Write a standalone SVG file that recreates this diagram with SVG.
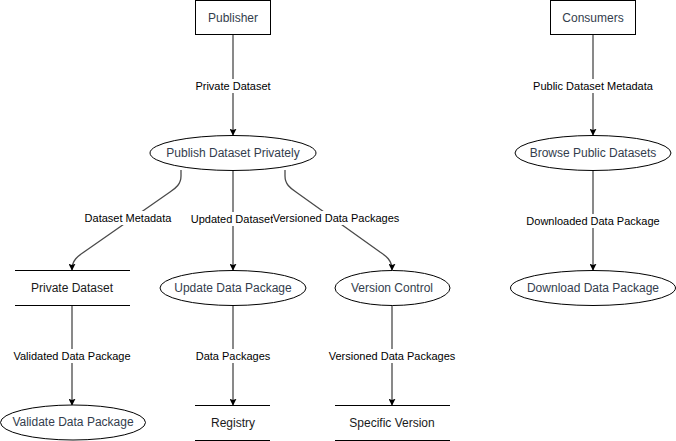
<svg xmlns="http://www.w3.org/2000/svg" width="676" height="441" viewBox="0 0 676 441">
<defs>
<marker id="arr" viewBox="0 0 10 10" refX="9" refY="5" markerWidth="7" markerHeight="7" markerUnits="userSpaceOnUse" orient="auto">
<path d="M0,0 L10,5 L0,10 L2,5 Z" fill="#000"/>
</marker>
<style>
.node{fill:#fff;stroke:#000;stroke-width:1}
.store{stroke:#000;stroke-width:1}
.nt{font-family:"Liberation Sans",Arial,sans-serif;font-size:12px;fill:#333d4d;text-anchor:middle;dominant-baseline:central}
.st{font-family:"Liberation Sans",Arial,sans-serif;font-size:12px;fill:#1a1a1a;text-anchor:middle;dominant-baseline:central}
.edge{fill:none;stroke:#4a4a4a;stroke-width:1.3;marker-end:url(#arr)}
.lb{fill:#fff}
.lt{font-family:"Liberation Sans",Arial,sans-serif;font-size:11px;fill:#000;text-anchor:middle;dominant-baseline:central}
</style>
</defs>
<g id="connectors">
<path class="edge" d="M233,35 V135"/>
<path class="edge" d="M181,170 V176 C181,184 176,188 170,192 L84,252 C78,256 72,260 72,270"/>
<path class="edge" d="M233,171 V270"/>
<path class="edge" d="M285,170 V176 C285,184 290,188 296,192 L380,252 C386,256 392,260 392,270"/>
<path class="edge" d="M72,305 V405"/>
<path class="edge" d="M233,305 V405"/>
<path class="edge" d="M392,305 V405"/>
<path class="edge" d="M593,35 V135"/>
<path class="edge" d="M593,171 V270"/>
<rect class="lb" x="193" y="79" width="80" height="14"/>
<text class="lt" x="233" y="86">Private Dataset</text>
<rect class="lb" x="85" y="211" width="88" height="14"/>
<text class="lt" x="128" y="218">Dataset Metadata</text>
<rect class="lb" x="191" y="212" width="82" height="14"/>
<text class="lt" x="232" y="219">Updated Dataset</text>
<rect class="lb" x="273" y="211" width="127" height="14"/>
<text class="lt" x="336" y="218">Versioned Data Packages</text>
<rect class="lb" x="13" y="349" width="118" height="14"/>
<text class="lt" x="72" y="356">Validated Data Package</text>
<rect class="lb" x="195" y="349" width="76" height="14"/>
<text class="lt" x="233" y="356">Data Packages</text>
<rect class="lb" x="329" y="349" width="127" height="14"/>
<text class="lt" x="392" y="356">Versioned Data Packages</text>
<rect class="lb" x="532" y="79" width="122" height="14"/>
<text class="lt" x="593" y="86">Public Dataset Metadata</text>
<rect class="lb" x="526" y="214" width="134" height="14"/>
<text class="lt" x="593" y="221">Downloaded Data Package</text>
</g>
<g id="publisher">
<rect class="node" x="195.5" y="0.5" width="75" height="34"/>
<text class="nt" x="233" y="18">Publisher</text>
</g>
<g id="consumers">
<rect class="node" x="550.5" y="0.5" width="85" height="34"/>
<text class="nt" x="593" y="18">Consumers</text>
</g>
<g id="publish-privately">
<ellipse class="node" cx="233" cy="153" rx="83" ry="17.5"/>
<text class="nt" x="233" y="153">Publish Dataset Privately</text>
</g>
<g id="browse-public">
<ellipse class="node" cx="593" cy="153" rx="78" ry="17.5"/>
<text class="nt" x="593" y="153">Browse Public Datasets</text>
</g>
<g id="private-dataset">
<line class="store" x1="15" y1="270.5" x2="130" y2="270.5"/>
<line class="store" x1="15" y1="305.5" x2="130" y2="305.5"/>
<text class="st" x="72" y="288">Private Dataset</text>
</g>
<g id="update-package">
<ellipse class="node" cx="233" cy="288" rx="73" ry="17.5"/>
<text class="nt" x="233" y="288">Update Data Package</text>
</g>
<g id="version-control">
<ellipse class="node" cx="392.5" cy="288" rx="57.5" ry="17.5"/>
<text class="nt" x="392" y="288">Version Control</text>
</g>
<g id="download-package">
<ellipse class="node" cx="593" cy="288" rx="82.5" ry="17.5"/>
<text class="nt" x="593" y="288">Download Data Package</text>
</g>
<g id="validate-package">
<ellipse class="node" cx="73" cy="422.5" rx="72.5" ry="17.5"/>
<text class="nt" x="73" y="422">Validate Data Package</text>
</g>
<g id="registry">
<line class="store" x1="195" y1="405.5" x2="270" y2="405.5"/>
<line class="store" x1="195" y1="440.5" x2="270" y2="440.5"/>
<text class="st" x="233" y="423">Registry</text>
</g>
<g id="specific-version">
<line class="store" x1="335" y1="405.5" x2="450" y2="405.5"/>
<line class="store" x1="335" y1="440.5" x2="450" y2="440.5"/>
<text class="st" x="392" y="423">Specific Version</text>
</g>
</svg>
